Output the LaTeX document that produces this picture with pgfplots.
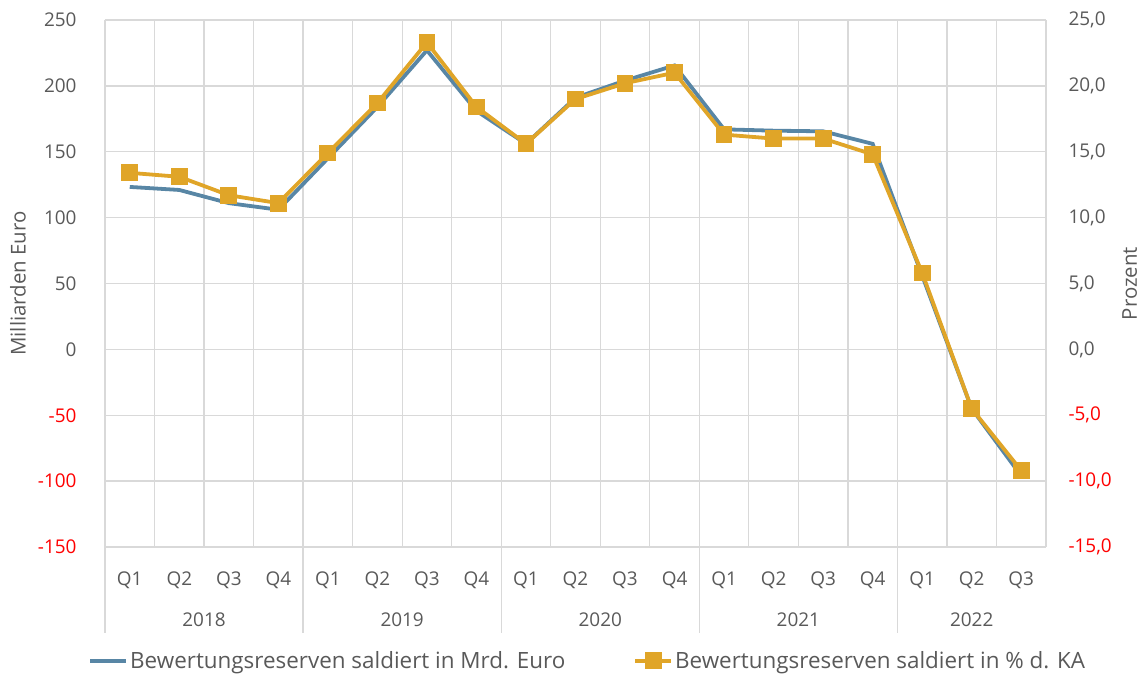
\documentclass[border=0pt]{standalone}
\usepackage{pgfplots}
\pgfplotsset{compat=1.18}
\usepackage{fontspec}
\setmainfont{Open Sans}
\definecolor{cblue}{RGB}{88,134,165}
\definecolor{corange}{RGB}{224,165,40}
\definecolor{ctext}{RGB}{89,89,89}
\definecolor{cgrid}{RGB}{217,217,217}
\definecolor{cred}{RGB}{255,0,0}
\begin{document}
\begin{tikzpicture}
\pgfplotsset{
  every axis/.append style={
    scale only axis, width=941bp, height=527bp,
    xmin=-0.5, xmax=18.5,
    font=\fontsize{19}{22}\selectfont,
    tick style={draw=none},
    axis line style={draw=none},
    clip=false,
  }
}
\begin{axis}[
  ymin=-150, ymax=250,
  ytick={-150,-100,...,250},
  yticklabels={\textcolor{cred}{-150},\textcolor{cred}{-100},\textcolor{cred}{-50},0,50,100,150,200,250},
  yticklabel style={text=ctext, anchor=east, xshift=-25bp},
  xtick={0,...,18},
  xticklabels={Q1,Q2,Q3,Q4,Q1,Q2,Q3,Q4,Q1,Q2,Q3,Q4,Q1,Q2,Q3,Q4,Q1,Q2,Q3},
  xticklabel style={text=ctext, anchor=center, yshift=-33bp},
  minor xtick={-0.5,0.5,...,18.5},
  xminorgrids=true, ymajorgrids=true,
  minor grid style={cgrid, line width=1.3bp},
  major grid style={cgrid, line width=1.3bp},
  ylabel={Milliarden Euro},
  ylabel style={at={(axis description cs:-0.0925,0.5)}, anchor=center, text=ctext, font=\fontsize{20.5}{24}\selectfont},
  legend style={at={(axis description cs:0.513,-0.216)}, anchor=center, draw=none, fill=none,
    legend columns=2, text=ctext, font=\fontsize{22.5}{26}\selectfont,
    /tikz/every even column/.append style={column sep=66bp},
    /tikz/every odd column/.append style={column sep=0bp},
    inner sep=0pt},
  legend cell align=left,
  legend image code/.code={\draw[#1, mark=none] (0bp,0bp) -- (36bp,0bp);
     \path[#1, only marks] plot coordinates {(18bp,0bp)};},
]
\addplot[cblue, line width=3.8bp, mark=none] coordinates {
(0,123.3) (1,121) (2,111) (3,106)
(4,145) (5,184) (6,227) (7,181)
(8,156) (9,191) (10,204) (11,215.5)
(12,167) (13,166) (14,165.5) (15,156)
(16,56) (17,-45) (18,-96)
};
\addlegendentry{Bewertungsreserven saldiert in Mrd. Euro}
\addlegendimage{corange, line width=3.8bp, mark=square*, mark size=6.5bp}
\addlegendentry{Bewertungsreserven saldiert in \% d. KA}
% separators and year labels
\draw[cgrid, line width=1.3bp] (axis cs:-0.5,-150) -- (axis cs:-0.5,-215.5);
\draw[cgrid, line width=1.3bp] (axis cs:3.5,-150) -- (axis cs:3.5,-215.5);
\draw[cgrid, line width=1.3bp] (axis cs:7.5,-150) -- (axis cs:7.5,-215.5);
\draw[cgrid, line width=1.3bp] (axis cs:11.5,-150) -- (axis cs:11.5,-215.5);
\draw[cgrid, line width=1.3bp] (axis cs:15.5,-150) -- (axis cs:15.5,-215.5);
\node[text=ctext, anchor=center] at (axis cs:1.5,-205.4) {2018};
\node[text=ctext, anchor=center] at (axis cs:5.5,-205.4) {2019};
\node[text=ctext, anchor=center] at (axis cs:9.5,-205.4) {2020};
\node[text=ctext, anchor=center] at (axis cs:13.5,-205.4) {2021};
\node[text=ctext, anchor=center] at (axis cs:17,-205.4) {2022};
\end{axis}
\begin{axis}[
  ymin=-15, ymax=25,
  hide x axis,
  axis y line*=right,
  ytick={-15,-10,...,25},
  yticklabels={\textcolor{cred}{-15,0},\textcolor{cred}{-10,0},\textcolor{cred}{-5,0},{0,0},{5,0},{10,0},{15,0},{20,0},{25,0}},
  yticklabel style={text=ctext, anchor=west, xshift=19bp},
  ylabel={Prozent},
  ylabel style={at={(axis description cs:1.089,0.5)}, anchor=center, rotate=0, text=ctext, font=\fontsize{20.5}{24}\selectfont},
]
\addplot[corange, line width=3.8bp, mark=square*, mark size=6.5bp] coordinates {
(0,13.4) (1,13.1) (2,11.7) (3,11.1)
(4,14.9) (5,18.7) (6,23.3) (7,18.4)
(8,15.6) (9,19.0) (10,20.2) (11,21.0)
(12,16.3) (13,16.0) (14,16.0) (15,14.8)
(16,5.8) (17,-4.5) (18,-9.2)
};
\end{axis}
\pgfresetboundingbox
\path (-105bp,-128bp) rectangle (1042bp,547bp);
\end{tikzpicture}
\end{document}
